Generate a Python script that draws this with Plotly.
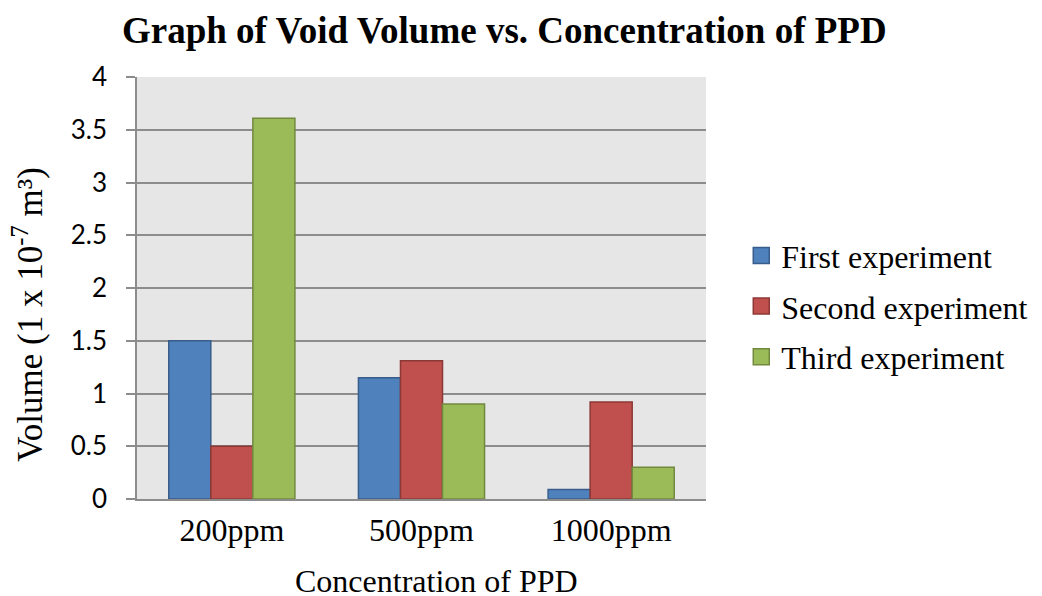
import plotly.graph_objects as go

categories = ["200ppm", "500ppm", "1000ppm"]
first = [1.5, 1.15, 0.09]
second = [0.5, 1.31, 0.92]
third = [3.61, 0.9, 0.3]
series_names = ["First experiment", "Second experiment", "Third experiment"]
y_ticks = [0, 0.5, 1, 1.5, 2, 2.5, 3, 3.5, 4]
y_tick_labels = ["0", "0.5", "1", "1.5", "2", "2.5", "3", "3.5", "4"]
x_title = "Concentration of PPD"
y_title = "Volume (1 x 10<sup>-7</sup> m³)"

fills = ["#4F81BD", "#C0504D", "#9BBB59"]
borders = ["#385D8A", "#8C3836", "#71893F"]

fig = go.Figure()
for i, (name, vals) in enumerate(zip(series_names, [first, second, third])):
    fig.add_trace(go.Bar(
        x=categories, y=vals, name=name, legendgroup=name, showlegend=False,
        marker=dict(color=fills[i], line=dict(color=borders[i], width=1.5)),
    ))
# legend entries with larger square swatches
for i, name in enumerate(series_names):
    fig.add_trace(go.Scatter(
        x=[None], y=[None], mode="markers", name=name, legendgroup=name,
        marker=dict(symbol="square", size=16, color=fills[i],
                    line=dict(color=borders[i], width=1.5)),
    ))

serif = "Liberation Serif, Times New Roman, serif"
sans = "Lato, Liberation Sans, Arial, sans-serif"

# page body has an 8px margin; compensate
fig.update_layout(
    width=1034, height=588,
    margin=dict(l=129, r=336, t=69, b=97, autoexpand=False),
    paper_bgcolor="white", plot_bgcolor="#E6E6E6",
    barmode="group", bargap=0.335, bargroupgap=0,
    title=dict(text="<b>Graph of Void Volume vs. Concentration of PPD</b>",
               x=0.48, xanchor="center", y=0.962, yanchor="middle",
               font=dict(family=serif, size=37, color="black")),
    legend=dict(x=1.062, xanchor="left", y=0.457, yanchor="middle",
                font=dict(family=serif, size=32, color="black"),
                tracegroupgap=6, itemclick=False, itemsizing="trace"),
    showlegend=True,
    xaxis=dict(
        tickfont=dict(family=serif, size=32, color="black"),
        showline=True, linecolor="#8C8C8C", linewidth=1.5, mirror=False,
        ticks="", showgrid=False, ticklabelstandoff=2, automargin=False,
    ),
    yaxis=dict(
        tickfont=dict(family=sans, size=26, color="black"),
        range=[0, 4], tickvals=y_ticks, ticktext=y_tick_labels,
        showline=True, linecolor="#8C8C8C", linewidth=1.5,
        ticks="outside", ticklen=9, tickcolor="#8C8C8C", tickwidth=1.5,
        ticklabelstandoff=14,
        showgrid=True, gridcolor="#8C8C8C", gridwidth=1.5,
        zeroline=False, automargin=False,
    ),
    annotations=[
        dict(text=x_title, xref="paper", yref="paper", x=0.5255, y=-0.194,
             xanchor="center", yanchor="middle", showarrow=False,
             font=dict(family=serif, size=32, color="black")),
        dict(text=y_title, xref="paper", yref="paper", x=-0.192, y=0.438,
             xanchor="center", yanchor="middle", showarrow=False, textangle=-90,
             font=dict(family=serif, size=35, color="black")),
    ],
)

fig.write_html("out.html")
